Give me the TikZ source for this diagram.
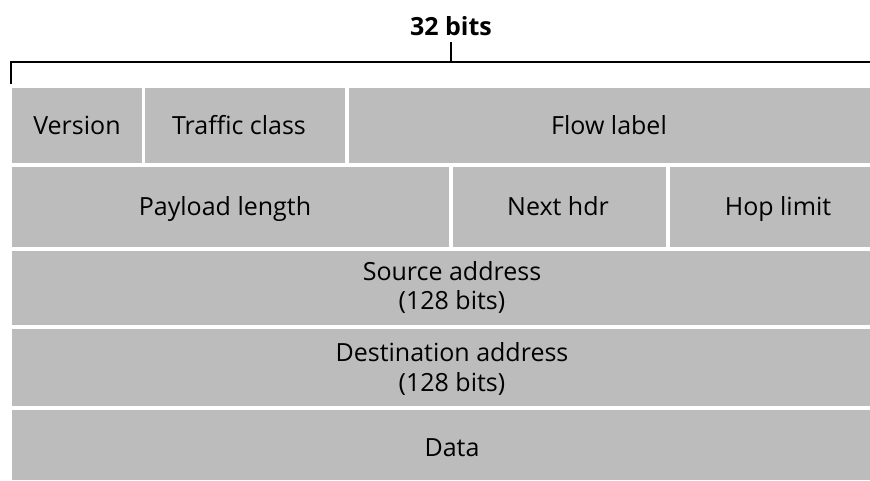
\documentclass[tikz,border=0pt]{standalone}
\usepackage{fontspec}
\setmainfont{Open Sans}
\usepackage{xcolor}
\definecolor{fieldgray}{RGB}{188,188,188}
\begin{document}
\begin{tikzpicture}[x=1pt, y=-1pt,
    field/.style={fill=fieldgray},
    lbl/.style={font=\fontsize{25}{29.5}\selectfont, align=center, inner sep=0pt, anchor=base}]
  \useasboundingbox (0,0) rectangle (870,480);
  \fill[field] (12,88) rectangle (142,163);
  \fill[field] (145,88) rectangle (345,163);
  \fill[field] (349,88) rectangle (870,163);
  \fill[field] (12,167) rectangle (449,247);
  \fill[field] (453,167) rectangle (666,247);
  \fill[field] (670,167) rectangle (870,247);
  \fill[field] (12,251) rectangle (870,325);
  \fill[field] (12,329) rectangle (870,406);
  \fill[field] (12,410) rectangle (870,480);
  \node[lbl] (ver) at (77,134) {Version};
  \node[lbl] (tc) at (239,134) {Traffic class};
  \node[lbl] (fl) at (609,134) {Flow label};
  \node[lbl] (pl) at (225,215) {Payload length};
  \node[lbl] (nh) at (558,215) {Next hdr};
  \node[lbl] (hl) at (778,215) {Hop limit};
  \node[lbl] (src) at (452,309.5) {Source address\\(128 bits)};
  \node[lbl] (dst) at (452,391) {Destination address\\(128 bits)};
  \node[lbl] (data) at (452,456) {Data};
  \node[lbl, font=\fontsize{25}{28}\selectfont\bfseries] (bits) at (451,35) {32 bits};
  \coordinate (bl) at (11,84);
  \coordinate (br) at (870,62);
  \coordinate (tick) at (451,62);
  \draw[line width=1.5pt] (bl) |- (br);
  \draw[line width=1.5pt] (tick) -- ++(0,-20);
\end{tikzpicture}
\end{document}
